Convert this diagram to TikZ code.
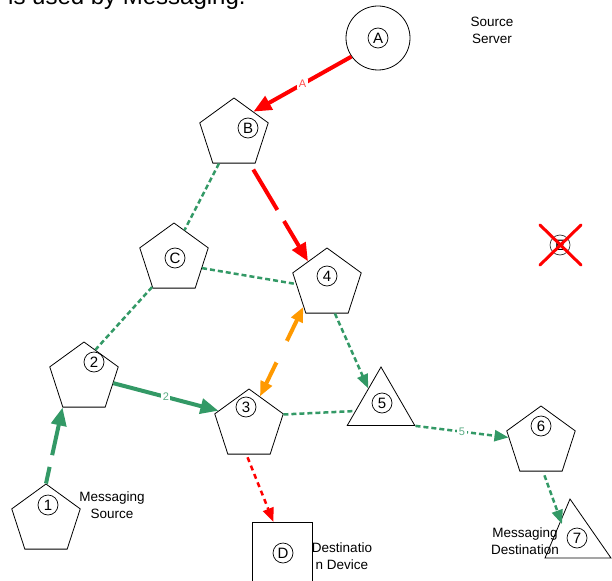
\documentclass[tikz,border=0pt]{standalone}
\usepackage{fontspec}
\setmainfont{Liberation Sans}
\usetikzlibrary{shapes.geometric,arrows.meta}
\definecolor{vgreen}{HTML}{339966}
\definecolor{vorange}{HTML}{FF9900}
\begin{document}
\begin{tikzpicture}[x=1pt,y=-1pt,
  pent/.style={draw, regular polygon, regular polygon sides=5, minimum size=72pt, inner sep=0pt, line width=0.8pt},
  tri/.style={draw, regular polygon, regular polygon sides=3, minimum size=78pt, inner sep=0pt, line width=0.8pt},
  tag/.style={circle, draw, minimum size=20pt, inner sep=0pt, line width=0.7pt, font=\fontsize{15}{15}\selectfont},
  lbl/.style={align=center, inner sep=0pt, font=\fontsize{13.5}{17}\selectfont},
  redline/.style={draw=red, line width=4pt},
  grn/.style={draw=vgreen, line width=4pt},
  gdot/.style={draw=vgreen, line width=2.5pt, dash pattern=on 5pt off 3pt},
  rdot/.style={draw=red, line width=2.5pt, dash pattern=on 5pt off 4pt},
  bigtip/.style={-{Triangle[length=18pt,width=15pt]}},
  smalltip/.style={-{Triangle[length=14pt,width=11pt]}},
  edgelbl/.style={fill=white, inner sep=1.5pt, font=\fontsize{11}{11}\selectfont}
]
\useasboundingbox (0,0) rectangle (612,580);
\clip (0,0) rectangle (612,580);

% title (cut off at top)
\node[anchor=base west, inner sep=0pt, font=\fontsize{24}{24}\selectfont] (title) at (8,5) {is used by Messaging.};

% shapes
\node[circle, draw, minimum size=64pt, inner sep=0pt, line width=0.8pt] (A) at (378,38) {};
\node[tag] (tA) at (378,38) {A};
\node[pent] (B) at (234,134) {};
\node[tag] (tB) at (248,128) {B};
\node[pent] (C) at (174,259) {};
\node[tag] (tC) at (175,258) {C};
\node[pent] (N4) at (327,284) {};
\node[tag] (t4) at (327,276) {4};
\node[pent] (N3) at (249,425) {};
\node[tag] (t3) at (246,407) {3};
\node[pent] (N2) at (84,378) {};
\node[tag] (t2) at (94,362) {2};
\node[pent] (N1) at (46,520) {};
\node[tag] (t1) at (48,505) {1};
\node[pent] (N6) at (541,442) {};
\node[tag] (t6) at (541,426) {6};
\node[tri] (N5) at (381,406) {};
\node[tag] (t5) at (382,403) {5};
\coordinate (t7a) at (570,499);
\coordinate (t7b) at (545,558);
\coordinate (t7c) at (611,558);
\draw[line width=0.8pt] (t7a) -- (t7b) -- (t7c) -- cycle;
\node[tag] (t7) at (577,538) {7};
\node[draw, line width=0.8pt, minimum width=60pt, minimum height=90pt, inner sep=0pt, anchor=north west] (D) at (252,522) {};
\node[tag] (tD) at (283,553) {D};

% crossed-out node
\node[tag, draw=black!80] (E) at (560,245) {E};
\coordinate (x1) at (540,225);
\coordinate (x2) at (581,265);
\coordinate (x3) at (540,265);
\coordinate (x4) at (581,225);
\draw[red, line width=3pt, line cap=round] (x1) -- (x2) (x3) -- (x4);

% text labels
\node[lbl] (ss) at (492,30) {Source\\Server};
\node[lbl] (ms) at (112,505) {Messaging\\Source};
\node[lbl] (md) at (525,541) {Messaging\\Destination};
\node[lbl] (dd) at (342,556) {Destinatio\\n Device};

% connectors
\draw[redline, bigtip] (A.215) -- node[edgelbl, text=red!70] {A} (B.49);
\draw[redline, bigtip, dash pattern=on 47pt off 13pt, shorten <=7pt] (B.-62) -- (N4.130);
\draw[gdot] (B.243) -- (C.70);
\draw[gdot] (C.232) -- (N2.68);
\draw[gdot] (C.-18) -- (N4.180);
\draw[gdot, smalltip] (N4.-75) -- (N5.126);
\draw[gdot] (N3.17) -- (N5.191);
\draw[gdot, smalltip] (N5.corner 3) -- node[edgelbl, text=vgreen!80] {5} (N6.172);
\coordinate (in7) at (562,524);
\draw[gdot, smalltip, shorten <=4pt] (N6.-86) -- (in7);
\draw[grn, bigtip] (N2.-10) -- node[edgelbl, text=vgreen!80] {2} (N3.155);
\draw[grn, bigtip, dash pattern=on 50pt off 12pt, dash phase=33pt] (N1.corner 1) -- (N2.corner 3);
\draw[rdot, smalltip, shorten <=3pt] (N3.-95) -- ([xshift=-9pt]D.north);
\draw[draw=vorange, line width=4pt, {Triangle[length=15pt,width=12pt]}-{Triangle[length=15pt,width=12pt]}] (N3.69) -- node[circle, fill=white, minimum size=24pt, inner sep=0pt] (gap34) {} (N4.224);
\end{tikzpicture}
\end{document}
